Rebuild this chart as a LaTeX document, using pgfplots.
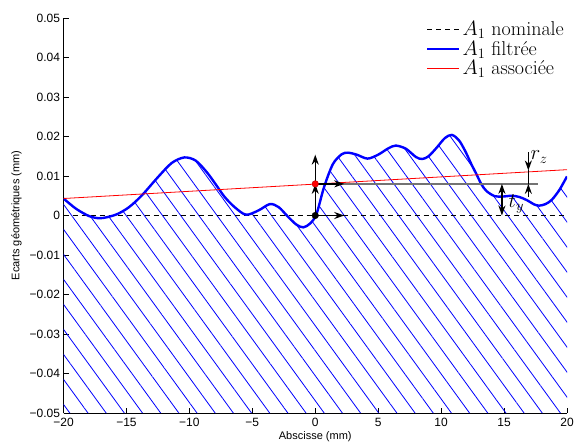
\documentclass[border=0pt]{standalone}
\usepackage{pgfplots}
\pgfplotsset{compat=1.18}
\usepgfplotslibrary{fillbetween}
\usetikzlibrary{patterns.meta,arrows.meta}
\usepackage{fontspec}
\newfontfamily\arial{Liberation Sans}
\pgfplotstableread{
x y
-20 0.0043
-19 0.0017
-18 -0.0001
-17.2 -0.0007
-16.5 -0.0004
-15.7 0.0004
-14.8 0.0021
-13.8 0.0050
-12.5 0.0097
-11.4 0.0133
-10.4 0.0147
-9.5 0.0139
-8.6 0.0109
-7.8 0.0074
-7.2 0.0047
-6.4 0.0021
-5.5 0.0002
-4.5 0.0013
-3.6 0.0029
-2.9 0.0021
-2.2 -0.0002
-1.5 -0.0023
-0.95 -0.0030
-0.4 -0.0020
0.1 0.0004
0.7 0.0072
1.4 0.0130
2.1 0.0155
2.6 0.0159
3.3 0.0154
4.15 0.0144
5.0 0.0154
5.8 0.0170
6.4 0.0177
7.2 0.0169
8.0 0.0148
8.5 0.0143
9.0 0.0150
9.6 0.0170
10.3 0.0196
10.85 0.0204
11.4 0.0191
11.9 0.0164
12.4 0.0130
12.8 0.0105
13.2 0.0079
13.6 0.0062
14.25 0.0049
14.9 0.0048
15.6 0.0050
16.2 0.0047
16.8 0.0039
17.4 0.0028
17.8 0.0025
18.3 0.0029
18.8 0.0040
19.4 0.0065
20 0.0099
}\filtree
\begin{document}
\begin{tikzpicture}
\begin{axis}[
  scale only axis, width=503.5pt, height=395pt,
  xmin=-20, xmax=20, ymin=-0.05, ymax=0.05,
  scaled ticks=false,
  axis x line=bottom, axis y line=left,
  axis line style={-, line width=0.6pt},
  tick align=inside, major tick length=5pt,
  tick style={black, line width=0.6pt},
  xtick={-20,-15,-10,-5,0,5,10,15,20},
  xticklabels={−20,−15,−10,−5,0,5,10,15,20},
  ytick={-0.05,-0.04,-0.03,-0.02,-0.01,0,0.01,0.02,0.03,0.04,0.05},
  yticklabels={−0.05,−0.04,−0.03,−0.02,−0.01,0,0.01,0.02,0.03,0.04,0.05},
  ticklabel style={font=\arial\fontsize{12}{14}\selectfont},
  xticklabel style={yshift=-2pt},
  xlabel={Abscisse (mm)}, ylabel={Ecarts géométriques (mm)},
  label style={font=\arial\fontsize{11}{13}\selectfont},
  xlabel style={yshift=2pt},
  ylabel style={yshift=1pt},
  legend style={at={(rel axis cs:1,1)}, anchor=north east, draw=none, fill=none,
    font=\fontsize{20}{23}\selectfont, inner sep=1pt, row sep=0pt},
  legend cell align=left,
  legend image code/.code={\draw[#1] (0pt,0pt) -- (32pt,0pt);},
]
\addplot[draw=none, name path=bot, forget plot] coordinates {(-20,-0.05) (20,-0.05)};
\addplot[draw=none, name path=curve, smooth, forget plot] table {\filtree};
\addplot[pattern={Lines[angle=-54,distance=14.7pt,line width=0.8pt]}, pattern color=blue, forget plot]
  fill between[of=curve and bot];
\addplot[black, line width=0.8pt, dash pattern=on 5pt off 4pt] coordinates {(-20,0) (20,0)};
\addlegendentry{$A_1$ nominale}
\addplot[blue, line width=2.4pt, smooth] table {\filtree};
\addlegendentry{$A_1$ filtrée}
\addplot[red, line width=0.8pt] coordinates {(-20,0.0043) (20,0.0116)};
\addlegendentry{$A_1$ associée}
\addplot[black!55, line width=1.5pt, forget plot] coordinates {(0,0.0080) (17.67,0.0080)};
% arrows
\addplot[black, line width=1.5pt, -{Stealth[length=10pt,width=7pt]}, forget plot] coordinates {(0,0) (0,0.0080)};
\addplot[black, line width=1.5pt, -{Stealth[length=10pt,width=7pt]}, forget plot] coordinates {(0,0.0080) (0,0.0154)};
\addplot[black, line width=1.5pt, -{Stealth[length=10pt,width=7pt]}, forget plot] coordinates {(0,0) (2.3,0)};
\addplot[black, line width=1.5pt, -{Stealth[length=10pt,width=7pt]}, forget plot] coordinates {(0,0.0080) (2.3,0.0080)};
\addplot[black, line width=1.5pt, {Stealth[length=10pt,width=7pt]}-{Stealth[length=10pt,width=7pt]}, forget plot] coordinates {(14.83,0) (14.83,0.0080)};
\addplot[black, line width=1.5pt, -{Stealth[length=10pt,width=7pt]}, forget plot] coordinates {(16.93,0.0160) (16.93,0.0114)};
\addplot[black, line width=1.5pt, forget plot] coordinates {(16.93,0.0114) (16.93,0.0080)};
\addplot[black, line width=1.5pt, -{Stealth[length=10pt,width=7pt]}, forget plot] coordinates {(16.93,0.0048) (16.93,0.0080)};
% points
\addplot[only marks, mark=*, mark size=3.3pt, black, forget plot] coordinates {(0,0)};
\addplot[only marks, mark=*, mark size=3.3pt, draw=red!70!black, fill=red, forget plot] coordinates {(0,0.0080)};
\node[anchor=west, font=\fontsize{20}{23}\selectfont, inner sep=0pt] at (axis cs:17.1,0.0148) {$r_z$};
\node[anchor=west, font=\fontsize{20}{23}\selectfont, inner sep=0pt] at (axis cs:15.35,0.0030) {$t_y$};
\coordinate (sw) at (rel axis cs:0,0);
\coordinate (ne) at (rel axis cs:1,1);
\end{axis}
\pgfresetboundingbox
\path[use as bounding box] ([xshift=-63.5pt,yshift=-29pt]sw) rectangle ([xshift=10pt,yshift=18pt]ne);
\end{tikzpicture}
\end{document}
